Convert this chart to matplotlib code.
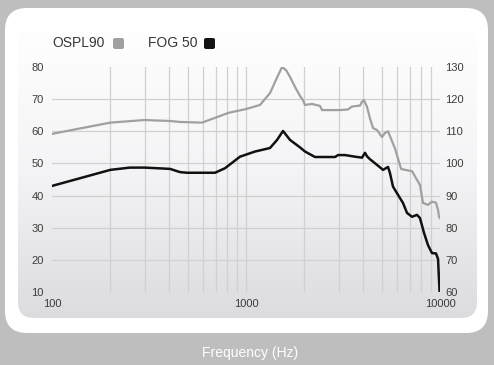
import numpy as np
import matplotlib
matplotlib.use("Agg")
import matplotlib.pyplot as plt
from matplotlib.patches import FancyBboxPatch
from matplotlib.colors import LinearSegmentedColormap

plt.rcParams['font.family'] = ['Liberation Sans', 'DejaVu Sans']

# OSPL90 (right axis, dB SPL)
ospl_f = [100, 200, 300, 406, 457, 593, 709, 808, 1012, 1181, 1330, 1440, 1534,
          1610, 1687, 1800, 1898, 1967, 2014, 2189, 2406, 2464, 3053, 3356, 3519,
          3870, 3962, 4057, 4206, 4357, 4516, 4733, 5024, 5207, 5395, 5865, 6300,
          6600, 7172, 7610, 7884, 8170, 8670, 9094, 9535, 9770, 9885, 10000]
ospl_v = [109.2, 112.7, 113.5, 113.2, 112.9, 112.7, 114.4, 115.7, 117.0, 118.2, 121.9, 126.5, 130.0,
          129.0, 126.9, 123.5, 121.0, 119.7, 118.2, 118.5, 117.9, 116.6, 116.6, 116.8, 117.7,
          118.0, 119.2, 119.7, 117.6, 114.0, 111.0, 110.4, 108.2, 109.5, 110.0, 104.6, 98.3,
          98.0, 97.6, 94.9, 93.3, 87.7, 87.1, 88.1, 87.8, 85.5, 83.4, 83.0]

# FOG 50 (left axis, dB)
fog_f = [100, 200, 252, 301, 406, 457, 497, 692, 779, 931, 1113, 1330, 1445, 1552,
         1687, 1898, 2014, 2269, 2876, 2981, 3238, 3646, 3962, 4105, 4206, 4357,
         4790, 5085, 5395, 5523, 5723, 6077, 6444, 6760, 7172, 7610, 7884, 8270,
         8670, 9094, 9535, 9770, 9950]
fog_v = [43.0, 48.0, 48.7, 48.7, 48.3, 47.3, 47.1, 47.1, 48.5, 52.1, 53.7, 54.8, 57.3, 60.1,
         57.3, 55.0, 53.7, 52.0, 52.0, 52.6, 52.6, 52.1, 51.8, 53.3, 52.2, 51.3,
         49.3, 48.0, 48.9, 47.0, 42.8, 40.2, 37.7, 34.6, 33.4, 34.0, 33.0, 28.4,
         24.6, 22.1, 22.0, 20.3, 10.0]

left_ticks = [10, 20, 30, 40, 50, 60, 70, 80]
right_ticks = [60, 70, 80, 90, 100, 110, 120, 130]
x_ticks = [100, 1000, 10000]
x_labels = ['100', '1000', '10000']

W, H = 494, 365
fig = plt.figure(figsize=(W / 100, H / 100), dpi=100)
fig.patch.set_facecolor('#bebebe')

# background decoration in pixel coordinates
bg = fig.add_axes([0, 0, 1, 1], zorder=0)
bg.set_xlim(0, W)
bg.set_ylim(H, 0)
bg.axis('off')

outer = FancyBboxPatch((5, 8), 483, 325, boxstyle="round,pad=0,rounding_size=22",
                       facecolor='white', edgecolor='none')
bg.add_patch(outer)
inner = FancyBboxPatch((18, 22), 459, 296, boxstyle="round,pad=0,rounding_size=16",
                       facecolor='none', edgecolor='none')
bg.add_patch(inner)
cmap = LinearSegmentedColormap.from_list('g', ['#ffffff', '#f4f4f6', '#dcdce0'])
grad = bg.imshow(np.linspace(0, 1, 256).reshape(-1, 1), cmap=cmap, aspect='auto',
                 extent=(18, 477, 318, 22), origin='upper', zorder=1)
grad.set_clip_path(inner)
bg.set_xlim(0, W)
bg.set_ylim(H, 0)

# legend
bg.text(52, 43, 'OSPL90', fontsize=10, color='#363636', va='center', ha='left')
bg.add_patch(FancyBboxPatch((113, 38), 11, 11, boxstyle="round,pad=0,rounding_size=2",
                            facecolor='#a0a0a0', edgecolor='none', zorder=3))
bg.text(148, 43, 'FOG 50', fontsize=10, color='#363636', va='center', ha='left')
bg.add_patch(FancyBboxPatch((204, 38), 11, 11, boxstyle="round,pad=0,rounding_size=2",
                            facecolor='#141414', edgecolor='none', zorder=3))

bg.text(250, 353, 'Frequency (Hz)', fontsize=10, color='white', va='center', ha='center')

# chart axes
ax = fig.add_axes([52 / W, 1 - 292 / H, 388 / W, 225 / H], zorder=2)
ax.patch.set_visible(False)
ax.set_xscale('log')
ax.set_xlim(100, 10000)
ax.set_ylim(10, 80)
ax.set_yticks(left_ticks)
ax.set_xticks(x_ticks)
ax.set_xticklabels(x_labels)
ax.set_xticks([m * d for d in (100, 1000) for m in range(2, 10)], minor=True)
ax.xaxis.set_minor_formatter(plt.NullFormatter())
for s in ax.spines.values():
    s.set_visible(False)
ax.tick_params(which='both', length=0, labelsize=8, labelcolor='#3c3c3c')
ax.tick_params(axis='y', pad=6)
ax.tick_params(axis='x', pad=5)
ax.grid(True, which='both', axis='x', color='#d0d0d0', linewidth=0.9)
ax.grid(True, which='major', axis='y', color='#d0d0d0', linewidth=0.9)
for gl in (ax.get_ygridlines()[0], ax.get_ygridlines()[-1],
           ax.get_xgridlines()[0], ax.get_xgridlines()[-1]):
    gl.set_visible(False)

ax.plot(fog_f, fog_v, color='#111111', linewidth=1.8, zorder=4)

ax2 = ax.twinx()
ax2.patch.set_visible(False)
ax2.set_ylim(60, 130)
ax2.set_yticks(right_ticks)
for s in ax2.spines.values():
    s.set_visible(False)
ax2.tick_params(length=0, labelsize=8, labelcolor='#3c3c3c', pad=4)
ax2.plot(ospl_f, ospl_v, color='#a0a0a0', linewidth=1.6, zorder=3)

fig.savefig('out.png', dpi=100, facecolor=fig.get_facecolor())
